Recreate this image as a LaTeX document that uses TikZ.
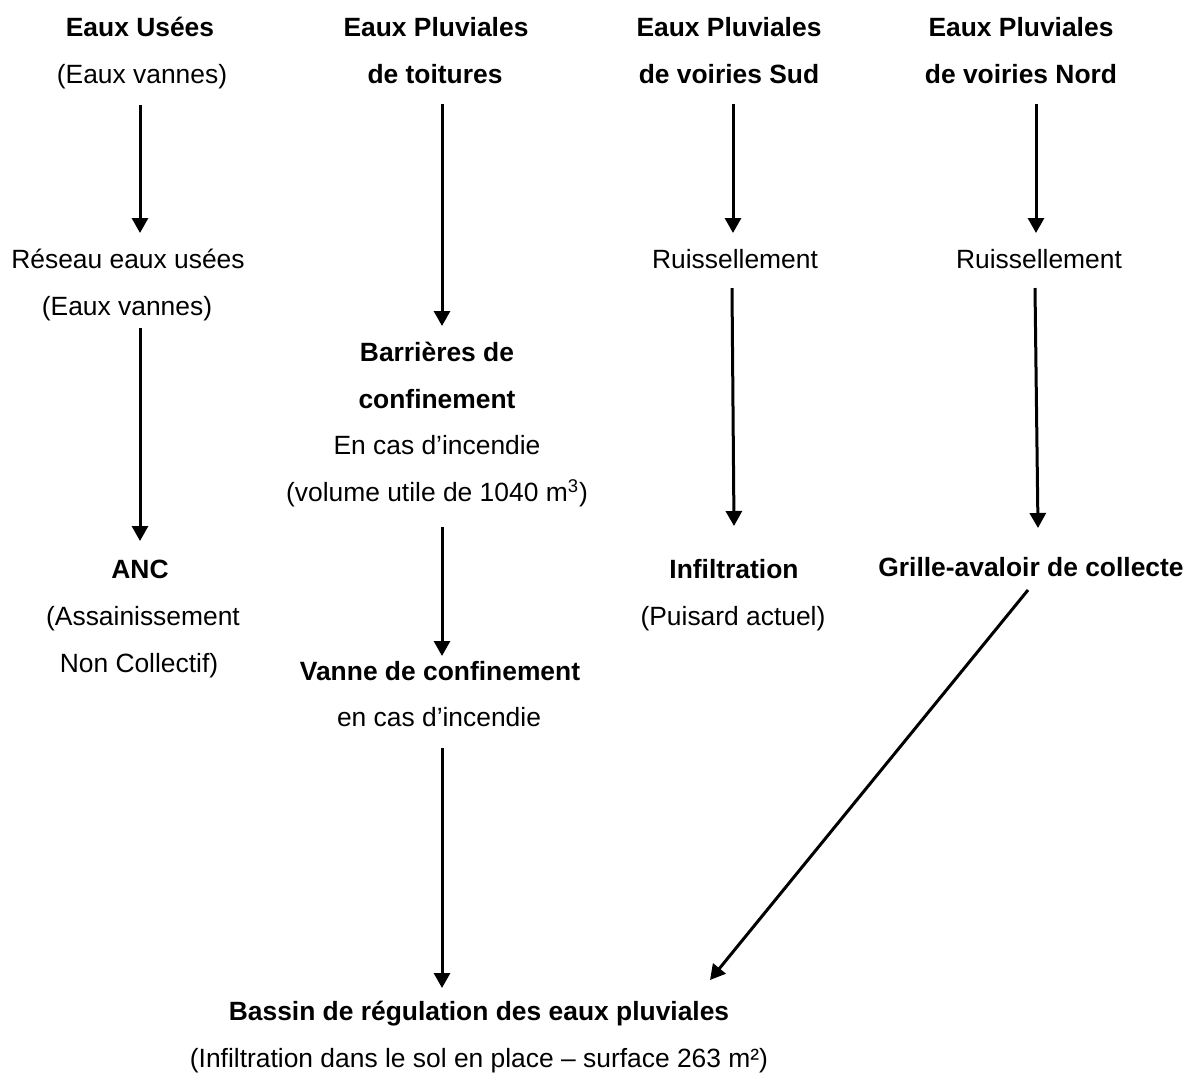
\documentclass[tikz,border=0pt]{standalone}
\usepackage{fontspec}
\setmainfont{Liberation Sans}
\usetikzlibrary{arrows.meta}
\tikzset{
  txt/.style={inner sep=0pt, anchor=base, font=\fontsize{13.2}{16}\selectfont},
  btxt/.style={txt, font=\fontsize{13.2}{16}\selectfont\bfseries},
  arr/.style={line width=1.5pt, -{Triangle[width=8pt,length=7.5pt]}}
}
\begin{document}
\begin{tikzpicture}[x=0.5pt,y=-0.5pt]
\useasboundingbox (0,0) rectangle (1189,1073);
% column 1
\node[btxt] (eu1) at (140,36) {Eaux Usées};
\node[txt]  (eu2) at (142,83) {(Eaux vannes)};
\node[txt]  (re1) at (128,268) {Réseau eaux usées};
\node[txt]  (re2) at (127,315) {(Eaux vannes)};
\node[btxt] (anc1) at (140,578) {ANC};
\node[txt]  (anc2) at (143,625) {(Assainissement};
\node[txt]  (anc3) at (139,672) {Non Collectif)};
% column 2
\node[btxt] (ep1) at (436,36) {Eaux Pluviales};
\node[btxt] (ep2) at (435,83) {de toitures};
\node[btxt] (bc1) at (437,361) {Barrières de};
\node[btxt] (bc2) at (437,408) {confinement};
\node[txt]  (bc3) at (437,454) {En cas d’incendie};
\node[txt]  (bc4) at (437,501) {(volume utile de 1040 m\textsuperscript{3})};
\node[btxt] (vc1) at (440,680) {Vanne de confinement};
\node[txt]  (vc2) at (439,726) {en cas d’incendie};
\node[btxt] (br1) at (479,1020) {Bassin de régulation des eaux pluviales};
\node[txt]  (br2) at (479,1067) {(Infiltration dans le sol en place – surface 263 m²)};
% column 3
\node[btxt] (ps1) at (729,36) {Eaux Pluviales};
\node[btxt] (ps2) at (729,83) {de voiries Sud};
\node[txt]  (rs)  at (735,268) {Ruissellement};
\node[btxt] (in1) at (734,578) {Infiltration};
\node[txt]  (in2) at (733,625) {(Puisard actuel)};
% column 4
\node[btxt] (pn1) at (1021,36) {Eaux Pluviales};
\node[btxt] (pn2) at (1021,83) {de voiries Nord};
\node[txt]  (rn)  at (1039,268) {Ruissellement};
\node[btxt] (ga)  at (1031,576) {Grille-avaloir de collecte};
% arrow end points
\coordinate (eu-o) at (140,105);  \coordinate (re-i) at (140,233);
\coordinate (re-o) at (140,328);  \coordinate (anc-i) at (140,541);
\coordinate (ep-o) at (442,104);  \coordinate (bc-i) at (442,326);
\coordinate (bc-o) at (442,527);  \coordinate (vc-i) at (442,656);
\coordinate (vc-o) at (442,748);  \coordinate (br-i) at (442,988);
\coordinate (ps-o) at (733,104);  \coordinate (rs-i) at (733,233);
\coordinate (rs-o) at (732,288);  \coordinate (in-i) at (734,526);
\coordinate (pn-o) at (1036,104); \coordinate (rn-i) at (1036,233);
\coordinate (rn-o) at (1035,288); \coordinate (ga-i) at (1038,528);
\coordinate (ga-o) at (1028,590); \coordinate (br-j) at (710,980);
\draw[arr] (eu-o) -- (re-i);
\draw[arr] (re-o) -- (anc-i);
\draw[arr] (ep-o) -- (bc-i);
\draw[arr] (bc-o) -- (vc-i);
\draw[arr] (vc-o) -- (br-i);
\draw[arr] (ps-o) -- (rs-i);
\draw[arr] (rs-o) -- (in-i);
\draw[arr] (pn-o) -- (rn-i);
\draw[arr] (rn-o) -- (ga-i);
\draw[arr] (ga-o) -- (br-j);
\end{tikzpicture}
\end{document}
